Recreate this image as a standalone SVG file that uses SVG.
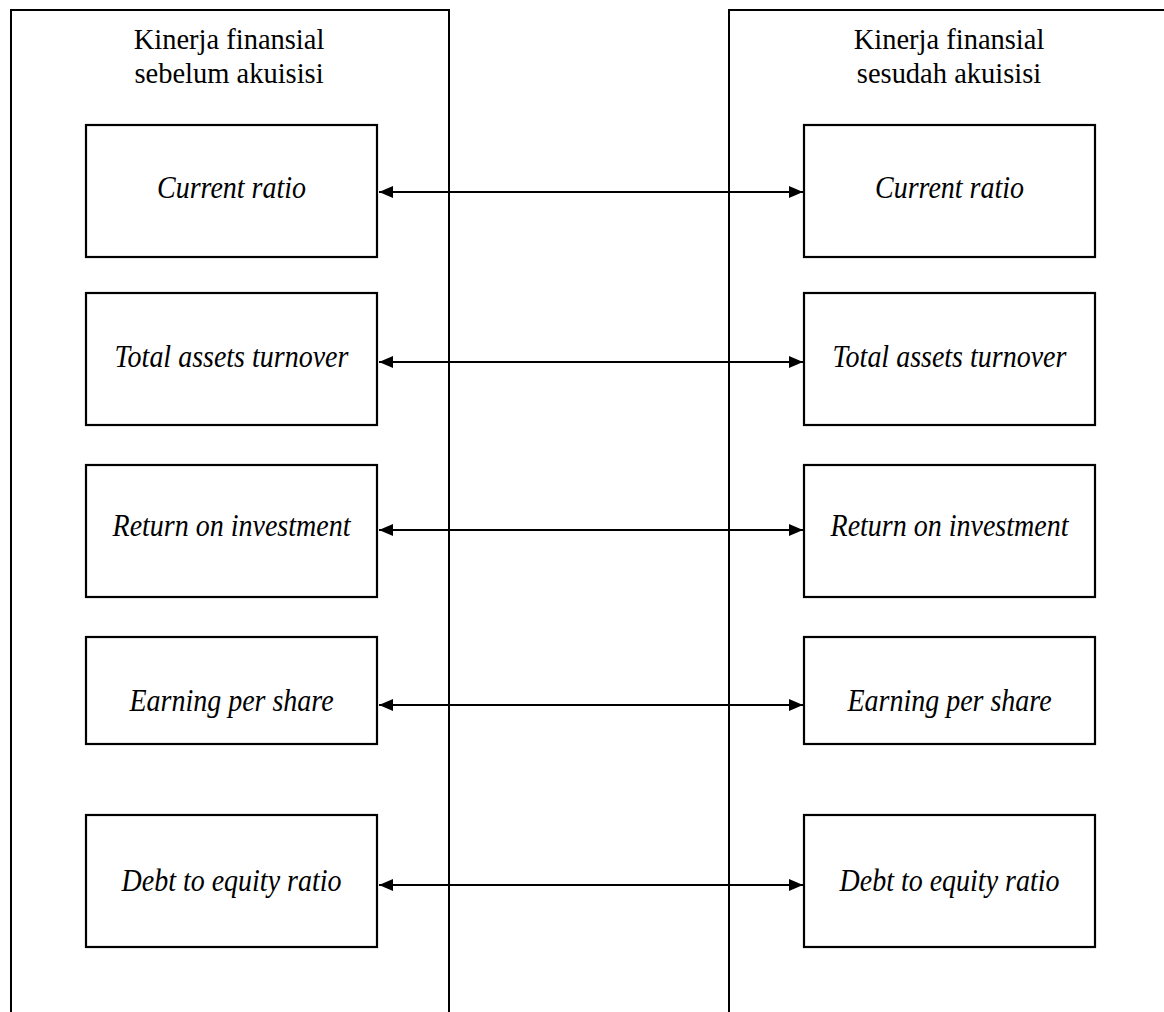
<svg xmlns="http://www.w3.org/2000/svg" width="1164" height="1012" viewBox="0 0 1164 1012">
  <style>
    .panel { fill: none; stroke: #000; stroke-width: 2; }
    .box { fill: #fff; stroke: #000; stroke-width: 2.2; }
    text { font-family: 'Liberation Serif', 'Times New Roman', Times, serif; fill: #000; text-anchor: middle; }
    .title { font-size: 28.5px; }
    .label { font-style: italic; font-size: 28px; }
    .conn { stroke: #000; stroke-width: 2; fill: none; marker-start: url(#arrow); marker-end: url(#arrow); }
  </style>
  <defs>
    <marker id="arrow" viewBox="0 0 14 12" refX="14" refY="6" markerWidth="14" markerHeight="12" markerUnits="userSpaceOnUse" orient="auto-start-reverse">
      <path d="M0,0 L14,6 L0,12 Z" fill="#000"/>
    </marker>
  </defs>
  <rect width="1164" height="1012" fill="#fff"/>

  <g id="panel-before">
    <path class="panel" d="M11,1012 V10 H449 V1012"/>
    <text class="title" transform="translate(229,49) scale(1,1.04)">Kinerja finansial</text>
    <text class="title" transform="translate(229,83) scale(1,1.04)">sebelum akuisisi</text>
  </g>
  <g id="panel-after">
    <path class="panel" d="M729,1012 V10 H1166"/>
    <text class="title" transform="translate(949,49) scale(1,1.04)">Kinerja finansial</text>
    <text class="title" transform="translate(949,83) scale(1,1.04)">sesudah akuisisi</text>
  </g>

  <g id="b-cr"><rect class="box" x="86" y="125" width="291" height="132"/><text class="label" transform="translate(231.5,198) scale(1,1.1)">Current ratio</text></g>
  <g id="b-tat"><rect class="box" x="86" y="293" width="291" height="132"/><text class="label" transform="translate(231.5,367) scale(1,1.1)">Total assets turnover</text></g>
  <g id="b-roi"><rect class="box" x="86" y="465" width="291" height="132"/><text class="label" transform="translate(231.5,536) scale(1,1.1)">Return on investment</text></g>
  <g id="b-eps"><rect class="box" x="86" y="637" width="291" height="107"/><text class="label" transform="translate(231.5,711) scale(1,1.1)">Earning per share</text></g>
  <g id="b-der"><rect class="box" x="86" y="815" width="291" height="132"/><text class="label" transform="translate(231.5,891) scale(1,1.1)">Debt to equity ratio</text></g>

  <g id="a-cr"><rect class="box" x="804" y="125" width="291" height="132"/><text class="label" transform="translate(949.5,198) scale(1,1.1)">Current ratio</text></g>
  <g id="a-tat"><rect class="box" x="804" y="293" width="291" height="132"/><text class="label" transform="translate(949.5,367) scale(1,1.1)">Total assets turnover</text></g>
  <g id="a-roi"><rect class="box" x="804" y="465" width="291" height="132"/><text class="label" transform="translate(949.5,536) scale(1,1.1)">Return on investment</text></g>
  <g id="a-eps"><rect class="box" x="804" y="637" width="291" height="107"/><text class="label" transform="translate(949.5,711) scale(1,1.1)">Earning per share</text></g>
  <g id="a-der"><rect class="box" x="804" y="815" width="291" height="132"/><text class="label" transform="translate(949.5,891) scale(1,1.1)">Debt to equity ratio</text></g>

  <g id="connectors">
    <line class="conn" x1="379" y1="192" x2="803" y2="192"/>
    <line class="conn" x1="379" y1="362" x2="803" y2="362"/>
    <line class="conn" x1="379" y1="530" x2="803" y2="530"/>
    <line class="conn" x1="379" y1="705" x2="803" y2="705"/>
    <line class="conn" x1="379" y1="885" x2="803" y2="885"/>
  </g>
</svg>
